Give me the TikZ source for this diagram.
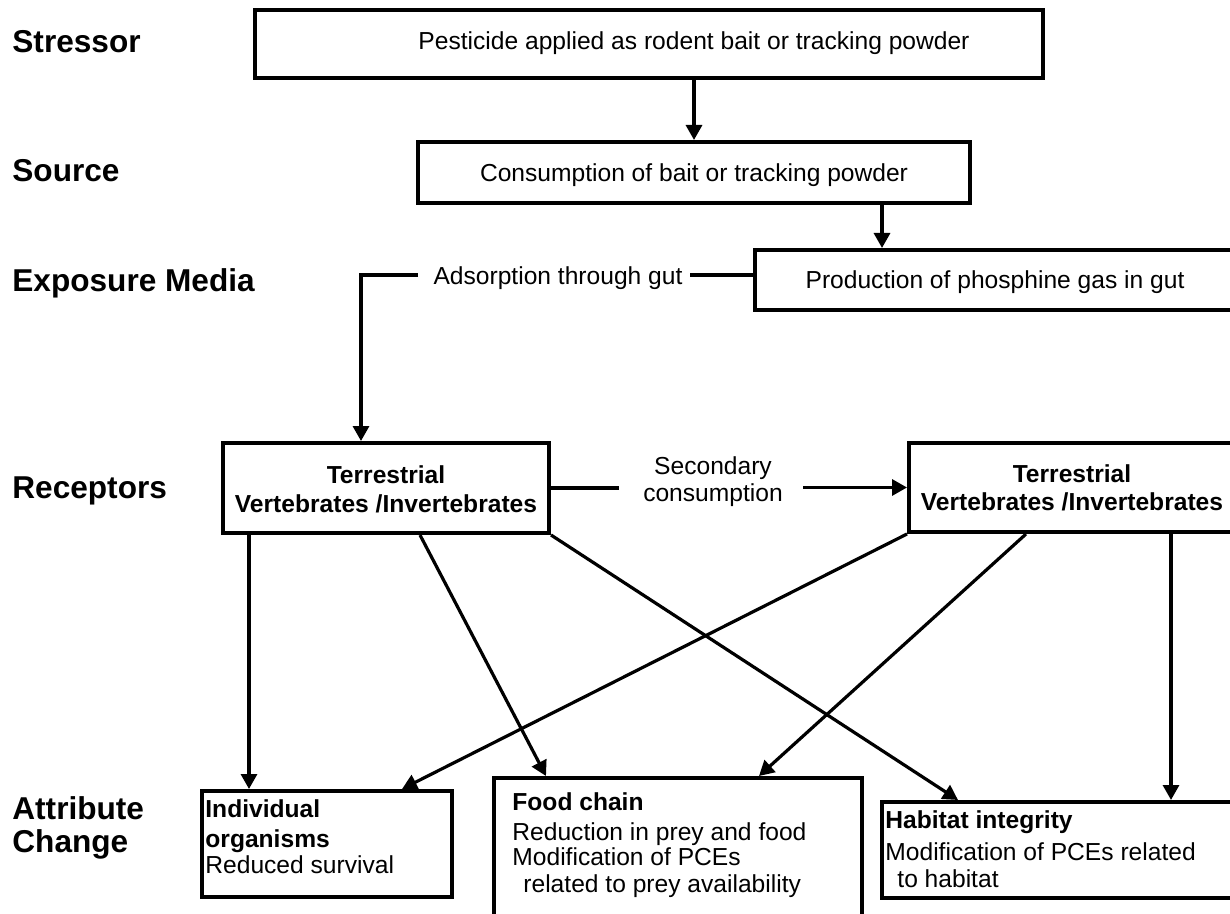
\documentclass[tikz,border=0pt]{standalone}
\usepackage{fontspec}
\setmainfont{Liberation Sans}
\usetikzlibrary{arrows.meta}
\begin{document}
\begin{tikzpicture}[x=0.5pt,y=-0.5pt,
  box/.style={draw,line width=2pt,inner sep=0pt},
  lab/.style={font=\fontsize{15.8}{18}\selectfont\bfseries,anchor=base west,inner sep=0pt},
  txt/.style={font=\fontsize{12.3}{14}\selectfont,inner sep=0pt},
  btxt/.style={font=\fontsize{12.3}{14}\selectfont\bfseries,inner sep=0pt},
  line/.style={line width=1.6pt},
  arr/.style={line width=1.6pt,-{Triangle[length=7.5pt,width=8pt]}}]
\useasboundingbox (0,0) rectangle (1230,914);
\fill[white] (0,0) rectangle (1230,914);
\clip (0,0) rectangle (1230,914);
% row labels
\node[lab] (lStr) at (12,53) {Stressor};
\node[lab] (lSrc) at (12,182) {Source};
\node[lab] (lExp) at (12,292) {Exposure Media};
\node[lab] (lRec) at (12,498) {Receptors};
\node[lab] (lAt1) at (12,819) {Attribute};
\node[lab] (lAt2) at (12,852) {Change};
% boxes
\node[box,minimum width=394pt,minimum height=34pt] (str) at (649,44) {};
\node[txt,anchor=base] (strT) at (694,50) {Pesticide applied as rodent bait or tracking powder};
\node[box,minimum width=276pt,minimum height=30.5pt] (src) at (694,172.5) {};
\node[txt,anchor=base] (srcT) at (694,182) {Consumption of bait or tracking powder};
\node[box,minimum width=240pt,minimum height=30pt] (phos) at (995,280) {};
\node[txt,anchor=base] (phosT) at (995,289) {Production of phosphine gas in gut};
\node[txt,anchor=base] (ads) at (558,285) {Adsorption through gut};
\node[box,minimum width=163pt,minimum height=45pt] (r1) at (386,488) {};
\node[btxt,anchor=base] (r1a) at (386,483) {Terrestrial};
\node[btxt,anchor=base] (r1b) at (386,512) {Vertebrates /Invertebrates};
\node[box,minimum width=163pt,minimum height=44.5pt] (r2) at (1072,487.5) {};
\node[btxt,anchor=base] (r2a) at (1072,482) {Terrestrial};
\node[btxt,anchor=base] (r2b) at (1072,510) {Vertebrates /Invertebrates};
\node[txt,anchor=base] (sec1) at (713,474) {Secondary};
\node[txt,anchor=base] (sec2) at (713,501) {consumption};
\node[box,minimum width=125pt,minimum height=53pt] (ind) at (327,844) {};
\node[btxt,anchor=base west] (ind1) at (205,817) {Individual};
\node[btxt,anchor=base west] (ind2) at (205,847) {organisms};
\node[txt,anchor=base west] (ind3) at (205,873) {Reduced survival};
\node[box,minimum width=184pt,minimum height=91pt] (food) at (678,869) {};
\node[btxt,anchor=base west] (f1) at (512,810) {Food chain};
\node[txt,anchor=base west] (f2) at (512,840) {Reduction in prey and food};
\node[txt,anchor=base west] (f3) at (512,865) {Modification of PCEs};
\node[txt,anchor=base west] (f4) at (523,892) {related to prey availability};
\node[box,minimum width=180pt,minimum height=48pt] (hab) at (1062,850) {};
\node[btxt,anchor=base west] (h1) at (885,828) {Habitat integrity};
\node[txt,anchor=base west] (h2) at (885,860) {Modification of PCEs related};
\node[txt,anchor=base west] (h3) at (897,887) {to habitat};
% connectors
\draw[arr] (src.north |- str.south) -- (src.north);
\draw[arr] ([xshift=94pt]src.south) -- ([xshift=94pt]src.south |- phos.north);
\draw[line] ([yshift=2.5pt]phos.west) -- +(-31.5pt,0);
\draw[arr] ([yshift=2.5pt]phos.west) ++(-167.5pt,0) -| ([xshift=70pt]r1.north west);
\draw[line] (r1.east) -- +(34pt,0);
\draw[arr] ([xshift=-52pt]r2.west) -- (r2.west);
\draw[arr] ([xshift=14pt]r1.south west) -- ([xshift=14pt]r1.south west |- ind.north);
\draw[arr] ([xshift=99.5pt]r1.south west) -- ([xshift=27pt]food.north west);
\draw[arr] (r1.south east) -- ([xshift=39pt]hab.north west);
\draw[arr] (r2.south west) -- ([xshift=-26pt]ind.north east);
\draw[arr] ([xshift=59.5pt]r2.south west) -- ([xshift=-52.5pt]food.north east);
\draw[arr] ([xshift=132pt]r2.south west) -- ([xshift=132pt]r2.south west |- hab.north);
\end{tikzpicture}
\end{document}
